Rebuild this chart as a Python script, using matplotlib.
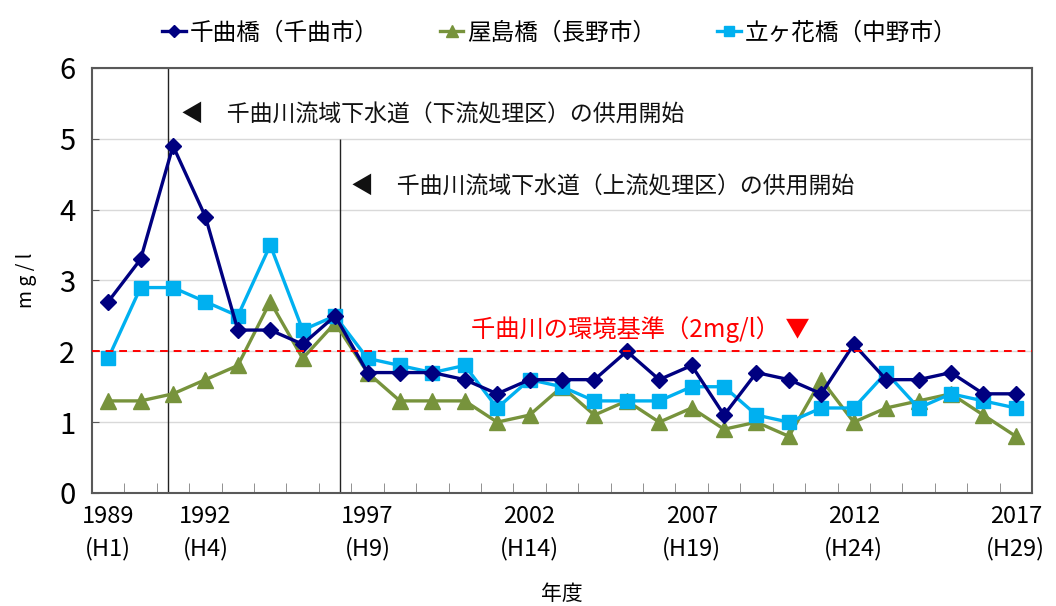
import matplotlib as mpl
mpl.use("Agg")
import matplotlib.pyplot as plt
import numpy as np

plt.rcParams["font.family"] = ["Noto Sans CJK JP", "DejaVu Sans"]

YEARS = list(range(1989, 2018))
TICK_YEARS = [1989, 1992, 1997, 2002, 2007, 2012, 2017]
TICK_LABELS = ["1989\n(H1)", "1992\n(H4)", "1997\n(H9)", "2002\n(H14)",
               "2007\n(H19)", "2012\n(H24)", "2017\n(H29)"]

chikuma_bridge = [2.7, 3.3, 4.9, 3.9, 2.3, 2.3, 2.1, 2.5, 1.7, 1.7,
                  1.7, 1.6, 1.4, 1.6, 1.6, 1.6, 2.0, 1.6, 1.8, 1.1,
                  1.7, 1.6, 1.4, 2.1, 1.6, 1.6, 1.7, 1.4, 1.4]
yashima_bridge = [1.3, 1.3, 1.4, 1.6, 1.8, 2.7, 1.9, 2.4, 1.7, 1.3,
                  1.3, 1.3, 1.0, 1.1, 1.5, 1.1, 1.3, 1.0, 1.2, 0.9,
                  1.0, 0.8, 1.6, 1.0, 1.2, 1.3, 1.4, 1.1, 0.8]
tategahana_bridge = [1.9, 2.9, 2.9, 2.7, 2.5, 3.5, 2.3, 2.5, 1.9, 1.8,
                     1.7, 1.8, 1.2, 1.6, 1.5, 1.3, 1.3, 1.3, 1.5, 1.5,
                     1.1, 1.0, 1.2, 1.2, 1.7, 1.2, 1.4, 1.3, 1.2]

STANDARD = 2.0

fig = plt.figure(figsize=(10.56, 6.06), dpi=100)
ax = fig.add_axes([0.0871, 0.1865, 0.8902, 0.7013])

x = np.arange(len(YEARS))
ax.plot(x, chikuma_bridge, color="#000080", lw=2.4, marker="D", ms=8.5,
        label="千曲橋（千曲市）", zorder=4)
ax.plot(x, yashima_bridge, color="#77933C", lw=2.4, marker="^", ms=11,
        label="屋島橋（長野市）", zorder=3)
ax.plot(x, tategahana_bridge, color="#00B0F0", lw=2.4, marker="s", ms=10,
        label="立ヶ花橋（中野市）", zorder=3)

ax.axhline(STANDARD, color="#FF0000", lw=1.4, ls=(0, (4, 3)), zorder=5)

# sewer start markers
ax.axvline(1.85, color="#222222", lw=1.0, zorder=2)
ax.vlines(7.14, 0, 5, color="#222222", lw=1.0, zorder=2)

ax.text(2.25, 5.33, "◀　千曲川流域下水道（下流処理区）の供用開始",
        fontsize=16.5, va="center", ha="left", color="#111111")
ax.text(7.5, 4.32, "◀　千曲川流域下水道（上流処理区）の供用開始",
        fontsize=16.5, va="center", ha="left", color="#111111")
ax.text(11.2, 2.3, "千曲川の環境基準（2mg/l） ▼",
        fontsize=17.5, va="center", ha="left", color="#FF0000")

ax.set_xlim(-0.5, len(YEARS) - 0.5)
ax.set_ylim(0, 6)
ax.set_yticks(range(0, 7))
ax.tick_params(axis="y", labelsize=21, direction="in", length=5, pad=12,
               color="#595959")
ax.set_xticks([YEARS.index(y) for y in TICK_YEARS])
ax.set_xticklabels(TICK_LABELS, fontsize=17, linespacing=1.45)
ax.set_xticks(np.arange(0.5, len(YEARS) - 0.5, 1), minor=True)
ax.tick_params(axis="x", which="major", length=0, pad=9)
ax.tick_params(axis="x", which="minor", direction="in", length=7,
               color="#7f7f7f")
ax.grid(axis="y", color="#d9d9d9", lw=1.0)
ax.set_axisbelow(True)
for s in ax.spines.values():
    s.set_color("#595959")
    s.set_linewidth(1.5)

ax.set_ylabel("m g / l", fontsize=14, labelpad=16)
ax.set_xlabel("年度", fontsize=15, labelpad=16)

fig.legend(loc="upper center", bbox_to_anchor=(0.53, 1.0), ncol=3,
           frameon=False, fontsize=17, handlelength=1.0, handletextpad=0.15,
           columnspacing=2.6, markerscale=0.75)

fig.savefig("out.png", dpi=100)
